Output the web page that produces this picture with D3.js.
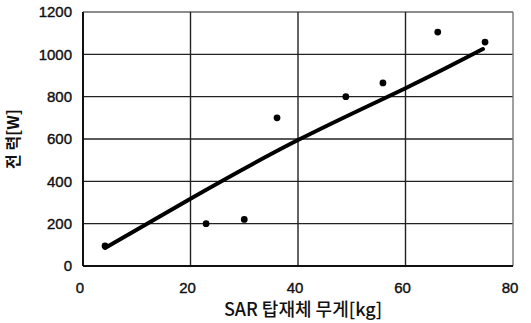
<!DOCTYPE html>
<html><head><meta charset="utf-8">
<script src="https://cdn.jsdelivr.net/npm/d3@7"></script>
<style>body{margin:0;background:#fff}svg{display:block}</style>
</head><body><svg id="c" width="531" height="323"></svg>
<script>
const xTicks = [0, 20, 40, 60, 80];
const yTicks = [0, 200, 400, 600, 800, 1000, 1200];
const massKg = [4.1, 22.9, 30.0, 36.1, 48.9, 55.8, 66.0, 74.8];
const powerW = [95, 200, 220, 700, 800, 865, 1105, 1058];
const trendX = [4.1, 20, 40, 60, 74.4];
const trendY = [85, 318, 595, 840, 1025];
const xTitle = "SAR 탑재체 무게[kg]";
const yTitle = "전 력[W]";

const svg = d3.select("#c");
const L = 83, R = 513, T = 12, B = 266;
const x = d3.scaleLinear().domain([0, 80]).range([L, R]);
const y = d3.scaleLinear().domain([0, 1200]).range([B, T]);

// grid
svg.append("g").selectAll("line").data(yTicks.filter(d => d > 0)).join("line")
  .attr("x1", L).attr("x2", R).attr("y1", d => y(d)).attr("y2", d => y(d))
  .attr("stroke", d => d === 1200 ? "#666" : "#222").attr("stroke-width", 1.4);
svg.append("g").selectAll("line").data(xTicks.filter(d => d > 0)).join("line")
  .attr("x1", d => x(d)).attr("x2", d => x(d)).attr("y1", T).attr("y2", B)
  .attr("stroke", d => d === 80 ? "#777" : "#222").attr("stroke-width", 1.4);

// axes lines
svg.append("line").attr("x1", L).attr("x2", L).attr("y1", T).attr("y2", B)
  .attr("stroke", "#111").attr("stroke-width", 2);
svg.append("line").attr("x1", L).attr("x2", R).attr("y1", B).attr("y2", B)
  .attr("stroke", "#111").attr("stroke-width", 2);

// tick labels
const tickFont = "'Liberation Sans', Arial, sans-serif";
svg.append("g").selectAll("text").data(yTicks).join("text")
  .attr("x", 72).attr("y", d => y(d)).attr("dy", "0.36em")
  .attr("text-anchor", "end").attr("font-family", tickFont)
  .attr("font-size", 15).attr("fill", "#111").attr("stroke", "#111").attr("stroke-width", 0.4)
  .text(d => d);
svg.append("g").selectAll("text").data(xTicks).join("text")
  .attr("x", d => x(d) - 3).attr("y", 293)
  .attr("text-anchor", "middle").attr("font-family", tickFont)
  .attr("font-size", 15).attr("fill", "#111").attr("stroke", "#111").attr("stroke-width", 0.4)
  .text(d => d);

// trend line
svg.append("path")
  .datum(trendX.map((d, i) => [d, trendY[i]]))
  .attr("d", d3.line().x(d => x(d[0])).y(d => y(d[1])).curve(d3.curveNatural))
  .attr("fill", "none").attr("stroke", "#000").attr("stroke-width", 4)
  .attr("stroke-linecap", "round");

// points
svg.append("g").selectAll("path").data(massKg.map((d, i) => [d, powerW[i]])).join("path")
  .attr("transform", d => `translate(${x(d[0])},${y(d[1])})`)
  .attr("d", d3.symbol().type(d3.symbolCircle).size(36))
  .attr("fill", "#000");

// titles
const kFont = "'Noto Sans CJK KR', 'Noto Sans', sans-serif";
svg.append("text").attr("x", 303).attr("y", 316).attr("text-anchor", "middle")
  .attr("font-family", kFont).attr("font-weight", 500).attr("font-size", 18)
  .attr("fill", "#111").text(xTitle);
svg.append("text").attr("transform", "translate(19,139) rotate(-90)")
  .attr("text-anchor", "middle").attr("font-family", kFont).attr("font-weight", "bold")
  .attr("font-size", 16).attr("fill", "#111").text(yTitle);
</script></body></html>
